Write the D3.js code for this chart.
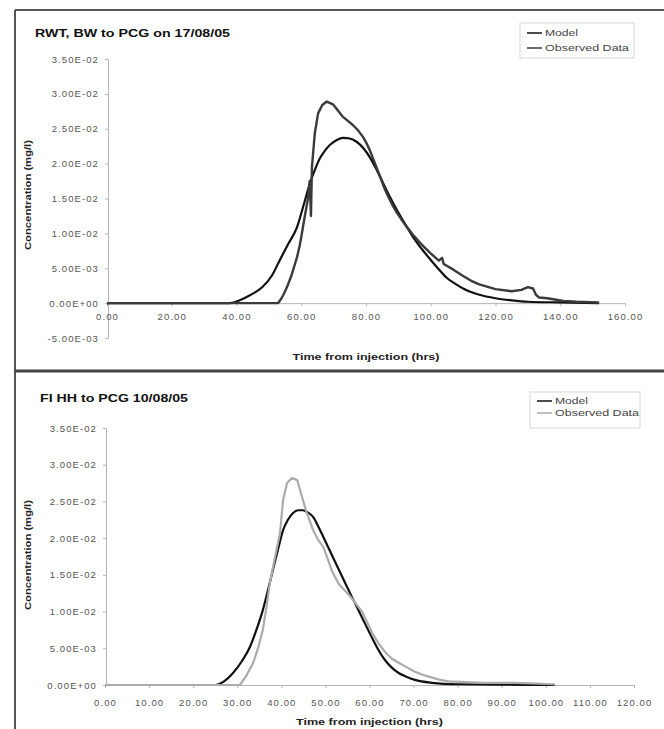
<!DOCTYPE html>
<html>
<head>
<meta charset="utf-8">
<script src="https://cdn.jsdelivr.net/npm/d3@7"></script>
<style>
  body { margin: 0; background: #fff; }
  svg { display: block; font-family: "Liberation Sans", Arial, sans-serif; }
</style>
</head>
<body>
<div id="plt"></div>
<script>
// --- data ---
// Panel 1: RWT, BW to PCG on 17/08/05
const rwtModelT = [0, 38, 41, 44, 48, 51, 53.4, 56, 58.7, 60.7, 62.7, 64.3, 65.8, 67.4, 68.9, 71, 72.9, 75, 77.2, 79.2, 81.2, 83.3, 85.3, 87.4, 89.6, 92, 94.5, 97, 99.8, 102.4, 105, 107.5, 110, 115, 120, 125, 130, 140, 152];
const rwtModelC = [0, 0, 0.0004, 0.0011, 0.0023, 0.0040, 0.0062, 0.0085, 0.0109, 0.0140, 0.0172, 0.0192, 0.0208, 0.0219, 0.0227, 0.0234, 0.0237, 0.0236, 0.0231, 0.0222, 0.0209, 0.0191, 0.0172, 0.0152, 0.0133, 0.0114, 0.0095, 0.0079, 0.0063, 0.0049, 0.0036, 0.0028, 0.0021, 0.0012, 0.0007, 0.0004, 0.0002, 0.0001, 0];
const rwtObsT = [0, 52.8, 53.5, 54.5, 55.6, 57, 58.7, 59.5, 60.2, 61, 62, 62.6, 63.0, 63.3, 64.2, 65.2, 66.5, 67.9, 69.8, 71.5, 72.9, 74.5, 76, 77.5, 79.1, 80.2, 81.2, 82.8, 84.3, 85.4, 86.5, 88, 89.6, 92, 94.5, 97, 99.8, 102.5, 103.5, 104, 107, 110, 112.5, 115, 120, 125, 128, 130, 131.6, 132.5, 133.5, 136, 141, 145, 152];
const rwtObsC = [0, 0, 0.0004, 0.0012, 0.0023, 0.0040, 0.0066, 0.0082, 0.0100, 0.0122, 0.0148, 0.0175, 0.0125, 0.0195, 0.0244, 0.0272, 0.0284, 0.0289, 0.0285, 0.0275, 0.0267, 0.0261, 0.0255, 0.0248, 0.0238, 0.0229, 0.0219, 0.0200, 0.0182, 0.0168, 0.0156, 0.0142, 0.0129, 0.0113, 0.0098, 0.0085, 0.0072, 0.0061, 0.0065, 0.0056, 0.0048, 0.0039, 0.0032, 0.0027, 0.0020, 0.0017, 0.0019, 0.0023, 0.0021, 0.0012, 0.0008, 0.0007, 0.0003, 0.0002, 0.0001];

// Panel 2: FI HH to PCG 10/08/05
const fiModelT = [0, 25, 27, 29, 31, 32.9, 34.4, 35.8, 37, 38.1, 39.3, 40.4, 41.5, 42.6, 43.8, 44.9, 46, 47.2, 48.3, 49.5, 50.6, 51.7, 54, 56, 58.3, 60.6, 62, 63.5, 65, 66.7, 68.5, 70.3, 74.2, 80, 90, 102];
const fiModelC = [0, 0, 0.0005, 0.0016, 0.0032, 0.0052, 0.0076, 0.0102, 0.0130, 0.0157, 0.0186, 0.0211, 0.0225, 0.0234, 0.0238, 0.0238, 0.0235, 0.0229, 0.0217, 0.0202, 0.0188, 0.0174, 0.0145, 0.0120, 0.0092, 0.0064, 0.0048, 0.0034, 0.0024, 0.0016, 0.0011, 0.0007, 0.0003, 0.0001, 0.00005, 0];
const fiObsT = [0, 30.6, 32, 33.6, 34.8, 35.8, 36.6, 37.4, 38.6, 39.7, 40.4, 41.3, 42.4, 43.6, 44.7, 45.8, 47.2, 48.3, 49.5, 50.5, 51.5, 53, 54.5, 56, 57, 58.3, 59.5, 60.6, 62, 63.5, 65, 66.7, 68.5, 70.3, 72, 74.2, 76, 78, 85.5, 93, 102];
const fiObsC = [0, 0, 0.0012, 0.0030, 0.0052, 0.0075, 0.0105, 0.0139, 0.0175, 0.0207, 0.0252, 0.0275, 0.0282, 0.0279, 0.0256, 0.0234, 0.0211, 0.0198, 0.0188, 0.0172, 0.0155, 0.0138, 0.0128, 0.0118, 0.0110, 0.0100, 0.0085, 0.0071, 0.0057, 0.0045, 0.0036, 0.0030, 0.0024, 0.0018, 0.0014, 0.0010, 0.0007, 0.0005, 0.0003, 0.0003, 0.0001];

// tick values
const rwtYTicks = [-0.005, 0, 0.005, 0.01, 0.015, 0.02, 0.025, 0.03, 0.035];
const rwtXTicks = [0, 20, 40, 60, 80, 100, 120, 140, 160];
const fiYTicks = [0, 0.005, 0.01, 0.015, 0.02, 0.025, 0.03, 0.035];
const fiXTicks = [0, 10, 20, 30, 40, 50, 60, 70, 80, 90, 100, 110, 120];

const seriesNames = ["Model", "Observed Data"];
const yTitle = "Concentration (mg/l)";
const xTitle = "Time from injection (hrs)";

// Excel style scientific labels, e.g. 3.50E-02
const sci = v => {
  const [m, e] = v.toExponential(2).split("e");
  const n = +e;
  return m + "E" + (n < 0 ? "-" : "+") + String(Math.abs(n)).padStart(2, "0");
};

const W = 664, H = 729;
const svg = d3.select("#plt").append("svg")
    .attr("width", W)
    .attr("height", H);

svg.append("rect").attr("width", W).attr("height", H).attr("fill", "#fff");

function zip(t, c) { return t.map((d, i) => ({ t: d, c: c[i] })); }

function drawPanel(p) {
  const x = d3.scaleLinear().domain(p.xDomain).range(p.xRange);
  const y = d3.scaleLinear().domain(p.yDomain).range(p.yRange);
  const g = svg.append("g");

  // y axis
  const ya = g.append("g")
      .attr("transform", `translate(${x(0) + 1},0)`)
      .call(d3.axisLeft(y).tickValues(p.yTicks).tickFormat(sci).tickSize(3).tickSizeOuter(0).tickPadding(6));
  // x axis on the zero line
  const xa = g.append("g")
      .attr("transform", `translate(0,${y(0)})`)
      .call(d3.axisBottom(x).tickValues(p.xTicks).tickFormat(d => d.toFixed(2)).tickSize(3).tickSizeOuter(0).tickPadding(p.xPad));
  [ya, xa].forEach(a => {
    a.select(".domain").attr("stroke", "#b5b5b5");
    a.selectAll(".tick line").attr("stroke", "#b5b5b5");
    a.selectAll("text").attr("fill", "#555").attr("font-size", 9.5).style("letter-spacing", "1.1px");
  });

  const lineModel = d3.line().x(d => x(d.t)).y(d => y(d.c)).curve(d3.curveMonotoneX);
  const lineObs = d3.line().x(d => x(d.t)).y(d => y(d.c));

  g.append("path").datum(zip(p.modelT, p.modelC))
      .attr("d", lineModel)
      .attr("fill", "none").attr("stroke", "#111").attr("stroke-width", 2.2);
  g.append("path").datum(zip(p.obsT, p.obsC))
      .attr("d", lineObs)
      .attr("fill", "none").attr("stroke", p.obsColor).attr("stroke-width", p.obsWidth)
      .attr("stroke-linejoin", "round");

  // titles
  g.append("text").attr("x", p.title[1]).attr("y", p.title[2])
      .attr("font-size", 10).attr("font-weight", "bold").attr("fill", "#111")
      .attr("textLength", p.title[3]).attr("lengthAdjust", "spacingAndGlyphs")
      .text(p.title[0]);
  g.append("text")
      .attr("transform", `translate(${p.yTitlePos[0]},${p.yTitlePos[1]}) rotate(-90)`)
      .attr("text-anchor", "middle")
      .attr("font-size", 9).attr("font-weight", "bold").attr("fill", "#222")
      .attr("textLength", 110).attr("lengthAdjust", "spacingAndGlyphs")
      .text(yTitle);
  g.append("text")
      .attr("x", (p.xRange[0] + p.xRange[1]) / 2).attr("y", p.xTitleY)
      .attr("text-anchor", "middle")
      .attr("font-size", 9).attr("font-weight", "bold").attr("fill", "#222")
      .attr("textLength", 147).attr("lengthAdjust", "spacingAndGlyphs")
      .text(xTitle);

  // legend
  const lg = g.append("g").attr("transform", `translate(${p.legend[0]},${p.legend[1]})`);
  lg.append("rect").attr("width", p.legend[2]).attr("height", p.legend[3])
      .attr("fill", "#fff").attr("stroke", "#d6d6d6");
  const colors = ["#111", p.obsColor];
  const textLen = [33, 84];
  seriesNames.forEach((name, i) => {
    const yy = p.legendRows[i];
    lg.append("line").attr("x1", 7).attr("x2", 22).attr("y1", yy).attr("y2", yy)
        .attr("stroke", colors[i]).attr("stroke-width", 1.5);
    lg.append("text").attr("x", 25).attr("y", yy + 3)
        .attr("font-size", 9).attr("fill", "#444")
        .attr("textLength", textLen[i]).attr("lengthAdjust", "spacingAndGlyphs")
        .text(name);
  });
}

drawPanel({
  title: ["RWT, BW to PCG on 17/08/05", 35, 37, 195],
  xDomain: [0, 160], xRange: [107, 625],
  yDomain: [-0.005, 0.035], yRange: [338, 59],
  xTicks: rwtXTicks, yTicks: rwtYTicks, xPad: 7,
  modelT: rwtModelT, modelC: rwtModelC, obsT: rwtObsT, obsC: rwtObsC,
  obsColor: "#3a3a3a", obsWidth: 2.4,
  yTitlePos: [31, 195], xTitleY: 360,
  legend: [520, 23, 114, 35], legendRows: [10, 25]
});

drawPanel({
  title: ["FI HH to PCG 10/08/05", 40, 402, 148],
  xDomain: [0, 120], xRange: [105, 634],
  yDomain: [0, 0.035], yRange: [685, 428],
  xTicks: fiXTicks, yTicks: fiYTicks, xPad: 11,
  modelT: fiModelT, modelC: fiModelC, obsT: fiObsT, obsC: fiObsC,
  obsColor: "#ababab", obsWidth: 2.2,
  yTitlePos: [31, 555], xTitleY: 725,
  legend: [530, 392, 110, 36], legendRows: [9, 21]
});

// page frame from the scan
svg.append("line").attr("x1", 15).attr("x2", W).attr("y1", 10).attr("y2", 10)
    .attr("stroke", "#555").attr("stroke-width", 2);
svg.append("line").attr("x1", 15).attr("x2", 15).attr("y1", 10).attr("y2", H)
    .attr("stroke", "#555").attr("stroke-width", 2);
svg.append("line").attr("x1", 15).attr("x2", W).attr("y1", 371).attr("y2", 371)
    .attr("stroke", "#444").attr("stroke-width", 3);
</script>
</body>
</html>
